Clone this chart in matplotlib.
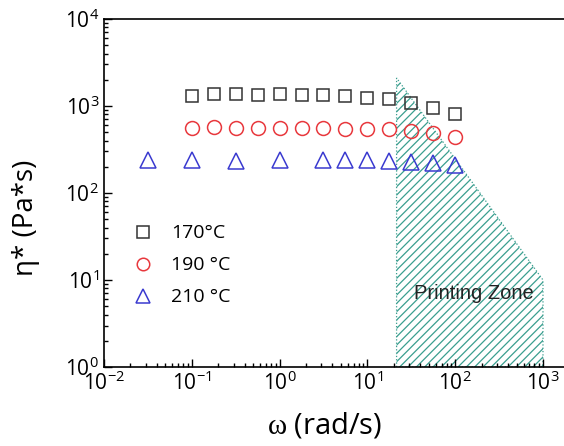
import numpy as np
import matplotlib
matplotlib.use('Agg')
import matplotlib.pyplot as plt
from matplotlib.ticker import LogLocator, FuncFormatter, NullFormatter

plt.rcParams['font.family'] = ['Open Sans', 'DejaVu Sans']
plt.rcParams['mathtext.fontset'] = 'custom'
plt.rcParams['mathtext.rm'] = 'Open Sans'
plt.rcParams['mathtext.it'] = 'Liberation Serif'
plt.rcParams['hatch.linewidth'] = 0.9

# data
freq = [0.1, 0.178, 0.316, 0.562, 1.0, 1.78, 3.16, 5.62, 10, 17.8, 31.6, 56.2, 100]
eta_170 = [1300, 1370, 1360, 1330, 1360, 1340, 1340, 1300, 1245, 1195, 1090, 940, 810]
eta_190 = [555, 570, 560, 555, 555, 555, 555, 545, 545, 540, 520, 485, 445]

freq_210 = [0.0316, 0.1, 0.316, 1.0, 3.16, 5.62, 10, 17.8, 31.6, 56.2, 100]
eta_210 = [240, 239, 236, 238, 238, 239, 238, 236, 229, 221, 210]

zone_x = [21.5, 21.5, 1000, 1000]
zone_y = [1, 2100, 10, 1]

fig = plt.figure(figsize=(5.64, 4.46), dpi=100)
ax = fig.add_axes([0.1844, 0.1771, 0.8156, 0.7803])

ax.fill(zone_x, zone_y, facecolor='none', edgecolor='#3a9e8f', hatch='////',
        linestyle=':', linewidth=0.9, zorder=1)
ax.text(164, 10 ** 0.85, 'Printing Zone', family=['Liberation Sans'], fontsize=14.5,
        ha='center', va='center', color='#222222', zorder=3)

ax.plot(freq, eta_170, 's', mfc='none', mec='#333333', ms=9, mew=1.1, label='170°C', zorder=4)
ax.plot(freq, eta_190, 'o', mfc='none', mec='#e8383d', ms=10, mew=1.1, label='190 °C', zorder=4)
ax.plot(freq_210, eta_210, '^', mfc='none', mec='#3a3ad0', ms=11, mew=1.1, label='210 °C', zorder=4)

ax.set_xscale('log')
ax.set_yscale('log')
ax.set_xlim(1e-2, 1735)
ax.set_ylim(1, 1e4)

fmt = FuncFormatter(lambda v, p: r'$\mathregular{10^{%d}}$' % round(np.log10(v)))
for axis in (ax.xaxis, ax.yaxis):
    axis.set_major_locator(LogLocator(base=10, numticks=10))
    axis.set_minor_locator(LogLocator(base=10, subs=np.arange(2, 10), numticks=10))
    axis.set_major_formatter(fmt)
    axis.set_minor_formatter(NullFormatter())

ax.tick_params(which='both', direction='in', top=False, right=False, labelsize=15, width=1)
ax.tick_params(which='major', length=6)
ax.tick_params(which='minor', length=3)
ax.spines['right'].set_visible(False)
for s in ('left', 'bottom', 'top'):
    ax.spines[s].set_linewidth(1.2)

ax.set_xlabel(r'$\omega$ (rad/s)', fontsize=21)
ax.xaxis.set_label_coords(0.48, -0.125)
ax.set_ylabel('η* (Pa*s)', fontsize=20)
ax.yaxis.set_label_coords(-0.139, 0.428)

ax.legend(loc='upper left', bbox_to_anchor=(0.005, 0.46), frameon=False, fontsize=14,
          handletextpad=0.45, labelspacing=0.72, markerscale=0.9)

fig.savefig('out.png', dpi=100)
